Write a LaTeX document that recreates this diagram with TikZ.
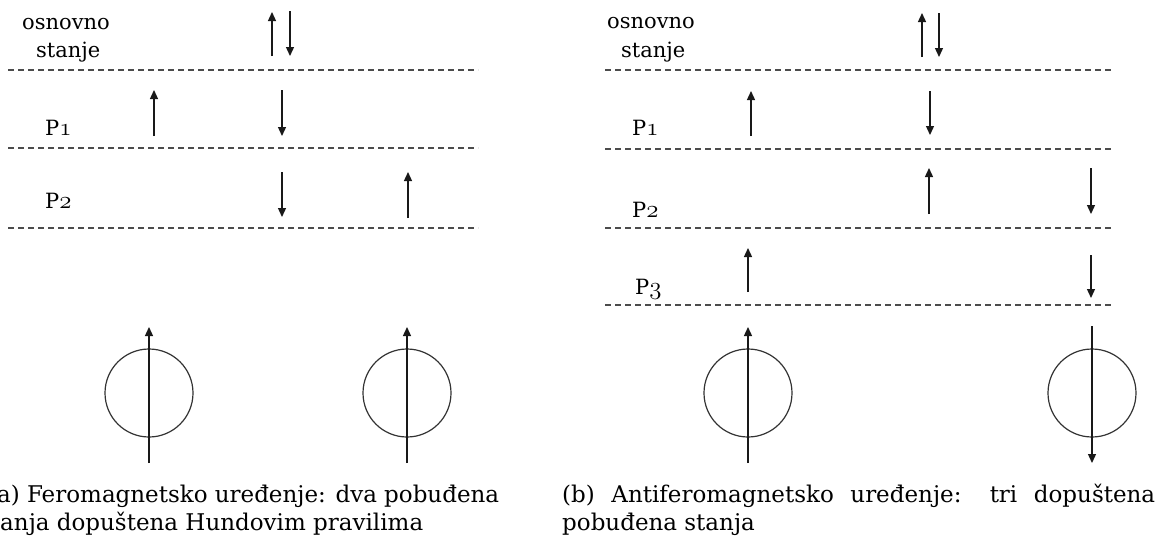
\documentclass[tikz,border=0pt]{standalone}
\usepackage{fontspec}
\setmainfont{DejaVu Serif}
\usetikzlibrary{arrows.meta}
\newcommand\myosn[1]{{\fontsize{25}{25}\usefont{OML}{cmm}{m}{it}#1}}
\begin{document}
\begin{tikzpicture}[x=1pt,y=-1pt,
  lbl/.style={inner sep=0pt,anchor=base west,font=\fontsize{21}{25}\selectfont},
  captext/.style={inner sep=0pt,anchor=base west,font=\fontsize{23}{28}\selectfont},
  spin/.style={line width=1.3pt,draw=black!90,-{Triangle[length=9pt,width=8pt]}},
  level/.style={line width=1.1pt,dash pattern=on 6pt off 4pt,draw=black!70},
  atom/.style={circle,draw=black!80,line width=1.2pt,minimum size=88pt,inner sep=0pt}]
\useasboundingbox (0,0) rectangle (1160,550);

% ---------- left panel (a) ----------
\node[lbl] (a-os) at (22,29) {osnovno};
\node[lbl] (a-st) at (36,57) {stanje};
\node[lbl] (a-p1) at (45,135) {P\myosn{1}};
\node[lbl] (a-p2) at (45,208) {P\myosn{2}};

\coordinate (a-l0s) at (8,70);   \coordinate (a-l0e) at (478,70);
\coordinate (a-l1s) at (8,148);  \coordinate (a-l1e) at (478,148);
\coordinate (a-l2s) at (8,228);  \coordinate (a-l2e) at (478,228);
\draw[level] (a-l0s) -- (a-l0e);
\draw[level] (a-l1s) -- (a-l1e);
\draw[level] (a-l2s) -- (a-l2e);

% ground state
\coordinate (a-g1b) at (272,56); \coordinate (a-g1t) at (272,12);
\coordinate (a-g2t) at (290,11); \coordinate (a-g2b) at (290,56);
\draw[spin] (a-g1b) -- (a-g1t);
\draw[spin] (a-g2t) -- (a-g2b);
% P1
\coordinate (a-11b) at (154,136); \coordinate (a-11t) at (154,90);
\coordinate (a-12t) at (282,90);  \coordinate (a-12b) at (282,136);
\draw[spin] (a-11b) -- (a-11t);
\draw[spin] (a-12t) -- (a-12b);
% P2
\coordinate (a-21t) at (282,172); \coordinate (a-21b) at (282,217);
\coordinate (a-22b) at (408,218); \coordinate (a-22t) at (408,172);
\draw[spin] (a-21t) -- (a-21b);
\draw[spin] (a-22b) -- (a-22t);

% atoms
\node[atom] (a-c1) at (149,393) {};
\node[atom] (a-c2) at (407,393) {};
\coordinate (a-c1b) at (149,463); \coordinate (a-c1t) at (149,327);
\coordinate (a-c2b) at (407,463); \coordinate (a-c2t) at (407,327);
\draw[spin] (a-c1b) -- (a-c1t);
\draw[spin] (a-c2b) -- (a-c2t);

% caption (a)
\node[captext] (a-cap1) at (-12,502) {\makebox[511pt][s]{(a) Feromagnetsko uređenje: dva pobuđena}};
\node[captext] (a-cap2) at (-21,530) {stanja dopuštena Hundovim pravilima};

% ---------- right panel (b) ----------
\node[lbl] (b-os) at (607,28) {osnovno};
\node[lbl] (b-st) at (621,57) {stanje};
\node[lbl] (b-p1) at (632,135) {P\myosn{1}};
\node[lbl] (b-p2) at (632,217) {P\myosn{2}};
\node[lbl] (b-p3) at (635,294) {P\myosn{3}};

\coordinate (b-l0s) at (605,70);  \coordinate (b-l0e) at (1113,70);
\coordinate (b-l1s) at (605,149); \coordinate (b-l1e) at (1113,149);
\coordinate (b-l2s) at (605,228); \coordinate (b-l2e) at (1113,228);
\coordinate (b-l3s) at (605,305); \coordinate (b-l3e) at (1113,305);
\draw[level] (b-l0s) -- (b-l0e);
\draw[level] (b-l1s) -- (b-l1e);
\draw[level] (b-l2s) -- (b-l2e);
\draw[level] (b-l3s) -- (b-l3e);

% ground state
\coordinate (b-g1b) at (922,57); \coordinate (b-g1t) at (922,13);
\coordinate (b-g2t) at (939,13); \coordinate (b-g2b) at (939,57);
\draw[spin] (b-g1b) -- (b-g1t);
\draw[spin] (b-g2t) -- (b-g2b);
% P1
\coordinate (b-11b) at (751,136); \coordinate (b-11t) at (751,91);
\coordinate (b-12t) at (930,91);  \coordinate (b-12b) at (930,135);
\draw[spin] (b-11b) -- (b-11t);
\draw[spin] (b-12t) -- (b-12b);
% P2
\coordinate (b-21b) at (929,214); \coordinate (b-21t) at (929,168);
\coordinate (b-22t) at (1091,168); \coordinate (b-22b) at (1091,214);
\draw[spin] (b-21b) -- (b-21t);
\draw[spin] (b-22t) -- (b-22b);
% P3
\coordinate (b-31b) at (748,292); \coordinate (b-31t) at (748,248);
\coordinate (b-32t) at (1091,255); \coordinate (b-32b) at (1091,298);
\draw[spin] (b-31b) -- (b-31t);
\draw[spin] (b-32t) -- (b-32b);

% atoms
\node[atom] (b-c1) at (748,393) {};
\node[atom] (b-c2) at (1092,393) {};
\coordinate (b-c1b) at (748,463); \coordinate (b-c1t) at (748,327);
\coordinate (b-c2t) at (1092,326); \coordinate (b-c2b) at (1092,463);
\draw[spin] (b-c1b) -- (b-c1t);
\draw[spin] (b-c2t) -- (b-c2b);

% caption (b)
\node[captext] (b-cap1) at (562,502) {\makebox[593pt][s]{(b) Antiferomagnetsko uređenje: tri dopuštena}};
\node[captext] (b-cap2) at (562,530) {pobuđena stanja};
\end{tikzpicture}
\end{document}
